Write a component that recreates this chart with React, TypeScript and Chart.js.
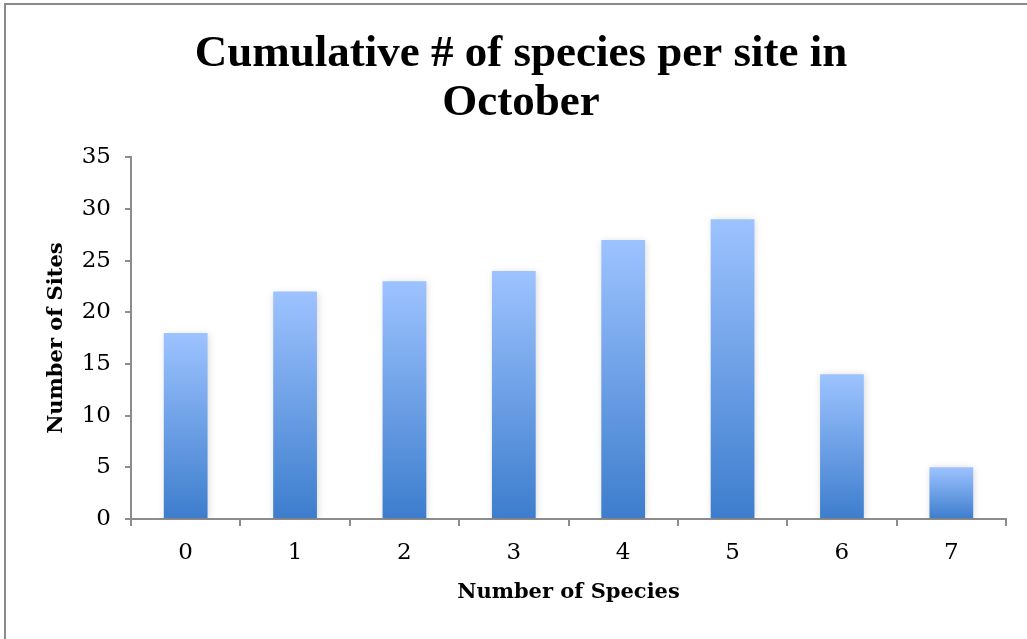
import React, { useEffect, useRef } from "react";
import { Chart, registerables } from "chart.js";

Chart.register(...registerables);

const categories = ["0", "1", "2", "3", "4", "5", "6", "7"];
const siteCounts = [18, 22, 23, 24, 27, 29, 14, 5];
const titleLines = ["Cumulative # of species per site in", "October"];
const xTitle = "Number of Species";
const yTitle = "Number of Sites";

const shadowPlugin = {
  id: "barShadow",
  beforeDatasetsDraw(chart: any) {
    const c = chart.ctx;
    c.save();
    c.shadowColor = "rgba(0,0,0,0.16)";
    c.shadowBlur = 7;
    c.shadowOffsetX = 1;
    c.shadowOffsetY = 1;
  },
  afterDatasetsDraw(chart: any) {
    chart.ctx.restore();
  },
};

export default function App() {
  const ref = useRef<HTMLCanvasElement | null>(null);

  useEffect(() => {
    if (!ref.current) return;
    const chart = new Chart(ref.current, {
      type: "bar",
      data: {
        labels: categories,
        datasets: [
          {
            data: siteCounts,
            backgroundColor: (ctx: any) => {
              const ch = ctx.chart;
              const area = ch.chartArea;
              if (!area || ctx.type !== "data" || !ch.scales.y) return "#7aa8f0";
              const yTop = ch.scales.y.getPixelForValue(ctx.raw);
              const yBot = ch.scales.y.getPixelForValue(0);
              if (!isFinite(yTop) || !isFinite(yBot) || yTop === yBot) return "#7aa8f0";
              const g = ch.ctx.createLinearGradient(0, yTop, 0, yBot);
              g.addColorStop(0, "#9dc3ff");
              g.addColorStop(1, "#3d7dcd");
              return g;
            },
            borderWidth: 0,
            categoryPercentage: 1,
            barPercentage: 0.4,
          },
        ],
      },
      options: {
        animation: false,
        responsive: false,
        maintainAspectRatio: false,
        layout: { padding: { left: 15, right: 0, top: 0, bottom: 0 } },
        plugins: {
          legend: { display: false },
          tooltip: { enabled: false },
          title: {
            display: true,
            text: titleLines,
            color: "#000",
            font: { family: "'Liberation Serif', serif", size: 45, weight: "bold", lineHeight: 1.08 },
            padding: { top: 30, bottom: 30 },
          },
        },
        scales: {
          x: {
            offset: true,
            grid: {
              offset: true,
              drawOnChartArea: false,
              drawTicks: true,
              tickLength: 7,
              color: "#8c8c8c",
              lineWidth: 2,
            },
            border: { display: true, color: "#8c8c8c", width: 2 },
            ticks: {
              color: "#000",
              padding: 13,
              font: { family: "'DejaVu Serif', serif", size: 23 },
            },
            title: {
              display: true,
              text: xTitle,
              color: "#000",
              font: { family: "'DejaVu Serif', serif", size: 21, weight: "bold", lineHeight: 1.2 },
              padding: { top: 0, bottom: 34 },
            },
            afterFit: (s: any) => {
              s.height = 120;
            },
          },
          y: {
            min: 0,
            max: 35,
            ticks: {
              stepSize: 5,
              color: "#000",
              padding: 14,
              font: { family: "'DejaVu Serif', serif", size: 23 },
            },
            grid: {
              drawOnChartArea: false,
              drawTicks: true,
              tickLength: 6,
              color: "#8c8c8c",
              lineWidth: 2,
            },
            border: { display: true, color: "#8c8c8c", width: 2 },
            title: {
              display: true,
              text: yTitle,
              color: "#000",
              font: { family: "'DejaVu Serif', serif", size: 21, weight: "bold", lineHeight: 1.2 },
              padding: { top: 29, bottom: 0 },
            },
            afterFit: (s: any) => {
              s.width = 116;
            },
          },
          yRightSpacer: {
            type: "linear",
            position: "right",
            display: true,
            grid: { display: false, drawTicks: false },
            border: { display: false },
            ticks: { display: false },
            afterFit: (s: any) => {
              s.width = 21;
            },
          },
        },
      },
      plugins: [shadowPlugin],
    } as any);
    return () => chart.destroy();
  }, []);

  return (
    <div style={{ position: "absolute", left: 0, top: 0, width: 1027, height: 639, background: "#fff", overflow: "hidden" }}>
      <div
        style={{
          position: "absolute",
          left: 4,
          top: 3,
          width: 1023,
          height: 636,
          borderLeft: "2px solid #8a8a8a",
          borderTop: "2px solid #8a8a8a",
          boxSizing: "border-box",
        }}
      />
      <canvas ref={ref} width={1027} height={639} style={{ position: "absolute", left: 0, top: 0, width: 1027, height: 639 }} />
    </div>
  );
}
